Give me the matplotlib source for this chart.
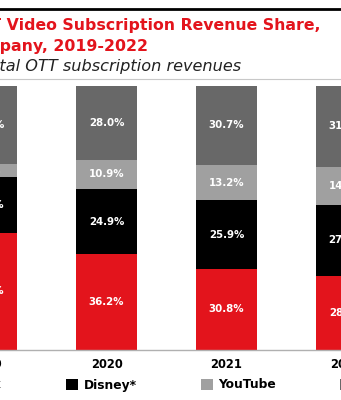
import matplotlib.pyplot as plt
from matplotlib.lines import Line2D

# Share of US OTT subscription revenues by company (%)
years = ['2019', '2020', '2021', '2022']
companies = ['Netflix', 'Disney*', 'YouTube', 'Other']
netflix = [44.4, 36.2, 30.8, 28.0]
disney = [21.0, 24.9, 25.9, 27.1]
youtube = [5.0, 10.9, 13.2, 14.2]
other = [29.6, 28.0, 30.7, 31.3]

colors = ['#e3141c', '#000000', '#a0a0a0', '#686868']
series = [netflix, disney, youtube, other]

W, H = 341, 400
fig = plt.figure(figsize=(W / 100, H / 100), dpi=100)
fig.patch.set_facecolor('white')
plt.rcParams['font.family'] = 'DejaVu Sans'


def fx(px):
    return px / W


def fy(py):
    return 1 - py / H


# axes run wider than the figure so the outer bars get cut at the edges
x_left, x_right = -73.5, 406.5
y_top, y_bottom = 86, 350
ax = fig.add_axes([fx(x_left), fy(y_bottom), (x_right - x_left) / W, (y_bottom - y_top) / H])
ax.set_xlim(-0.5, 3.5)
ax.set_ylim(0, 100)

x = list(range(len(years)))
bottoms = [0.0] * len(years)
for name, vals, col in zip(companies, series, colors):
    ax.bar(x, vals, bottom=bottoms, width=0.51, color=col, label=name, linewidth=0)
    for i, v in enumerate(vals):
        ax.text(i, bottoms[i] + v / 2, f'{v:.1f}%', ha='center', va='center',
                color='white', fontsize=7.4, fontweight='bold')
    bottoms = [b + v for b, v in zip(bottoms, vals)]

for side in ['top', 'right', 'left']:
    ax.spines[side].set_visible(False)
ax.spines['bottom'].set_color('#b0b0b0')
ax.spines['bottom'].set_linewidth(1)
ax.set_yticks([])
ax.set_xticks(x)
ax.set_xticklabels(years, fontsize=8.3, fontweight='bold')
ax.tick_params(axis='x', length=0, pad=5.5)

# header
fig.add_artist(Line2D([0, 1], [fy(8.5), fy(8.5)], color='black', linewidth=2))
fig.add_artist(Line2D([0, 1], [fy(79), fy(79)], color='#c8c8c8', linewidth=0.8))
fig.text(fx(320), fy(30), 'US OTT Video Subscription Revenue Share,', ha='right', va='baseline',
         color='#e3141c', fontsize=11.3, fontweight='bold')
fig.text(fx(148), fy(50.5), 'by Company, 2019-2022', ha='right', va='baseline',
         color='#e3141c', fontsize=11.3, fontweight='bold')
fig.text(fx(241), fy(71.5), '% of total OTT subscription revenues', ha='right', va='baseline',
         color='#222222', fontsize=11.6, style='italic')

leg = fig.legend(loc='center left', bbox_to_anchor=(fx(-62), fy(385)), ncol=4, frameon=False,
                 prop={'weight': 'bold', 'size': 8.8},
                 handlelength=1.0, handleheight=1.0, handletextpad=0.45,
                 columnspacing=5.25, borderpad=0, borderaxespad=0)

fig.savefig('out.png', dpi=100)
